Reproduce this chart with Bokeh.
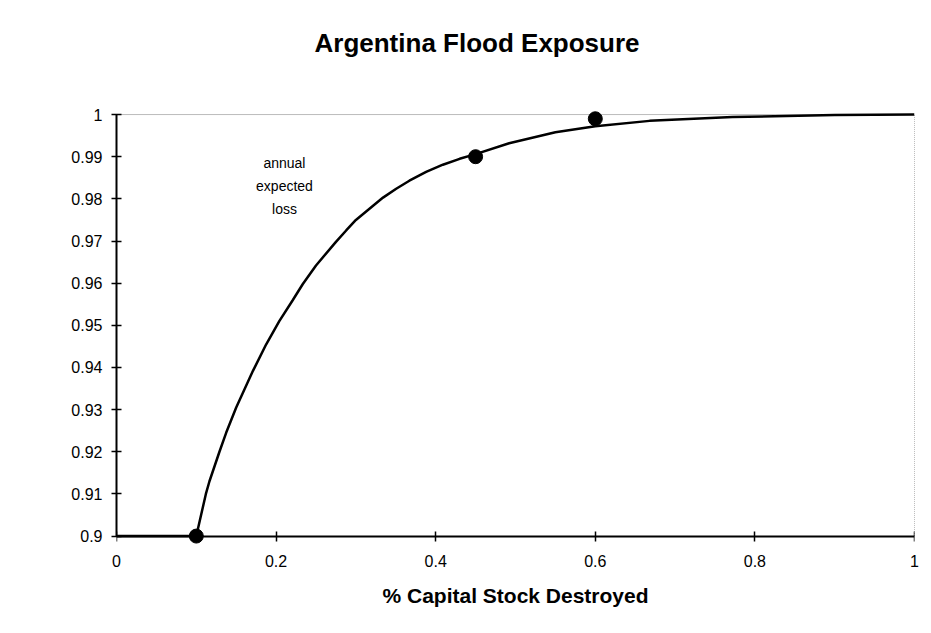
from bokeh.plotting import figure
from bokeh.models import Range1d, FixedTicker, LinearAxis
from bokeh.core.properties import value
from bokeh.embed import file_html
from bokeh.resources import INLINE

title_text = "Argentina Flood Exposure"
x_title = "% Capital Stock Destroyed"
note_text = "annual\nexpected\nloss"

# fitted curve
curve_x = [0, 0.1, 0.112, 0.1165, 0.129, 0.1374, 0.15, 0.171, 0.1876, 0.204, 0.221,
           0.2335, 0.25, 0.275, 0.2878, 0.3, 0.334, 0.3505, 0.367, 0.388, 0.409, 0.43,
           0.45, 0.492, 0.55, 0.6, 0.668, 0.772, 0.9, 1.0]
curve_y = [0.9, 0.9, 0.910, 0.913, 0.920, 0.9245, 0.9305, 0.9392, 0.9455, 0.951, 0.956,
           0.9598, 0.9642, 0.9698, 0.9725, 0.975, 0.9803, 0.9824, 0.9843, 0.9864, 0.9881, 0.9895,
           0.9906, 0.9932, 0.9958, 0.9972, 0.9985, 0.9994, 0.9999, 1.0]

# observed points
pts_x = [0.1, 0.45, 0.6]
pts_y = [0.9, 0.99, 0.999]

x_ticks = [0, 0.2, 0.4, 0.6, 0.8, 1.0]
x_tick_labels = ["0", "0.2", "0.4", "0.6", "0.8", "1"]
y_ticks = [0.9, 0.91, 0.92, 0.93, 0.94, 0.95, 0.96, 0.97, 0.98, 0.99, 1.0]
y_tick_labels = ["0.9", "0.91", "0.92", "0.93", "0.94", "0.95", "0.96", "0.97", "0.98", "0.99", "1"]

FONT = "Liberation Sans"

p = figure(width=923, height=625, output_backend="svg", toolbar_location=None,
           title=title_text,
           x_range=Range1d(0, 1), y_range=Range1d(0.898, 1.009264),
           min_border_left=116, min_border_right=9, min_border_top=75, min_border_bottom=81)
p.background_fill_color = "white"
p.border_fill_color = "white"
p.grid.visible = False
p.outline_line_color = None

p.title.align = "left"
p.title.offset = 198
p.title.text_font = FONT
p.title.text_font_style = "bold"
p.title.text_font_size = "26px"
p.title.text_color = "black"
p.title.standoff = 36

# plot-area top / right dotted borders
p.line([0, 1], [1.0, 1.0], line_color="#777777", line_width=1, line_dash="1 1")
p.line([1, 1], [0.9, 1.0], line_color="#777777", line_width=1, line_dash="1 1")

p.line(curve_x, curve_y, line_color="black", line_width=2.5)
p.scatter(pts_x, pts_y, size=14, color="black")

# x axis line + ticks at y = 0.9
xline = LinearAxis(fixed_location=0.9, ticker=FixedTicker(ticks=x_ticks))
xline.major_label_text_font_size = "0px"
xline.major_label_text_color = None
xline.major_label_standoff = 0
p.add_layout(xline, "below")

# label-only x axis
xa = p.xaxis[0]
xa.ticker = FixedTicker(ticks=x_ticks)
xa.major_label_overrides = {t: l for t, l in zip(x_ticks, x_tick_labels)}
xa.axis_line_color = None
xa.major_tick_line_color = None
xa.major_tick_out = 0
xa.major_tick_in = 0
xa.minor_tick_line_color = None
xa.major_label_standoff = 10
xa.major_label_text_font = FONT
xa.major_label_text_font_size = "16px"
xa.major_label_text_color = "black"
xa.axis_label = x_title
xa.axis_label_text_font = FONT
xa.axis_label_text_font_style = "bold"
xa.axis_label_text_font_size = "21px"
xa.axis_label_text_color = "black"
xa.axis_label_standoff = 14

ya = p.yaxis[0]
ya.bounds = (0.9, 1.0)
ya.ticker = FixedTicker(ticks=y_ticks)
ya.major_label_overrides = {t: l for t, l in zip(y_ticks, y_tick_labels)}
ya.major_label_standoff = 9
ya.major_label_text_font = FONT
ya.major_label_text_font_size = "16px"
ya.major_label_text_color = "black"

for ax in (xline, ya):
    ax.axis_line_color = "black"
    ax.axis_line_width = 2
    ax.major_tick_line_color = "black"
    ax.major_tick_line_width = 1.5
    ax.major_tick_in = 5
    ax.major_tick_out = 5
    ax.minor_tick_line_color = None

p.text(x=[0.2105], y=[0.9831], text=[note_text], text_align="center",
       text_baseline="middle", text_font=value(FONT), text_font_size="14px",
       text_color="black", text_line_height=1.45)

open("out.html", "w").write(file_html(p, INLINE))
